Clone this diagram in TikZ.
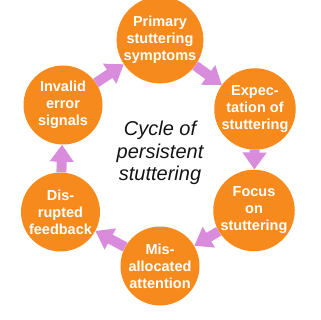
\documentclass[tikz,border=0pt]{standalone}
\usepackage{fontspec}
\setmainfont{Liberation Sans}
\usetikzlibrary{arrows.meta}
\definecolor{orng}{RGB}{247,138,28}
\definecolor{arr}{RGB}{218,140,220}
\definecolor{ink}{RGB}{20,20,20}
\begin{document}
\begin{tikzpicture}[x=1pt,y=-1pt,
  bub/.style={circle, fill=orng, minimum size=79pt, inner sep=0pt, text=white,
    font=\bfseries\fontsize{14.5}{17}\selectfont, align=center},
  cyc/.style={line width=10pt, draw=arr, -{Triangle[length=17pt,width=23pt]}}]
\fill[white] (0,0) rectangle (320,320);
\useasboundingbox (0,0) rectangle (320,320);
\node[bub] (p) at (160,40) {Primary\\stuttering\\symptoms};
\node[bub] (e) at (255,109) {Expec-\\tation of\\stuttering};
\node[bub] (f) at (254,210.5) {Focus\\on\\stuttering};
\node[bub] (m) at (160,266) {Mis-\\allocated\\attention};
\node[bub] (d) at (60.5,212) {Dis-\\rupted\\feedback};
\node[bub] (i) at (63,105) {Invalid\\error\\signals};
\node[align=center, text=ink, font=\itshape\fontsize{20}{22.5}\selectfont] (c) at (160,153) {Cycle of\\persistent\\stuttering};
\draw[cyc] (p) -- (e);
\draw[cyc] (e) -- (f);
\draw[cyc] (f) -- (m);
\draw[cyc] (m) -- (d);
\draw[cyc] (d) -- (i);
\draw[cyc] (i) -- (p);
\end{tikzpicture}
\end{document}
